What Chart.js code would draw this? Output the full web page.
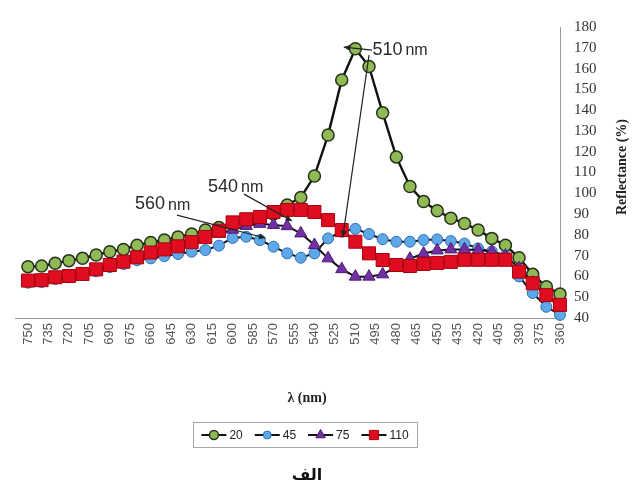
<!DOCTYPE html>
<html><head><meta charset="utf-8">
<script src="https://cdn.jsdelivr.net/npm/chart.js@4.4.1/dist/chart.umd.min.js"></script>
<style>html,body{margin:0;padding:0;background:#fff}#wrap{width:642px;height:489px;position:relative}</style>
</head><body><div id="wrap"><canvas id="c" width="642" height="489"></canvas></div>
<script>
// ---- data ----
const wavelengths = [750,740,730,720,710,700,690,680,670,660,650,640,630,620,610,600,590,580,570,560,550,540,530,520,510,500,490,480,470,460,450,440,430,420,410,400,390,380,370,360];
const xTickLabels = [750,735,720,705,690,675,660,645,630,615,600,585,570,555,540,525,510,495,480,465,450,435,420,405,390,375,360];
const yTickLabels = [40,50,60,70,80,90,100,110,120,130,140,150,160,170,180];
const seriesNames = ['20','45','75','110'];
const s20  = [64.7,65,66.3,67.6,68.7,70.3,71.9,73,75,76.3,77.5,79,80.4,82.3,83.5,85,86,87.5,90,94.4,98,108.3,128,154.5,169.5,161,138.7,117.5,103.3,96,91.6,88,85.5,82.3,78.3,75,69,61,55,51.5];
const s45  = [57,57.3,58.8,59.6,60.6,62.5,64.5,66,67.8,68.7,69.8,70.8,71.9,72.7,74.8,78.5,79.1,77.5,74.3,71.1,69,71.1,78.3,81.5,82.9,80.4,77.9,76.7,76.7,77.5,77.8,77,75.8,73.5,72,70,60,52,45.4,41.5];
const s75  = [57.5,57.8,59,60,61,62.8,64.8,66.5,68.5,70.5,72.5,74,75.5,78,80.5,82.5,84.3,85.3,84.8,84.2,80.7,75.1,68.7,63.5,59.9,59.9,61,64.5,68.5,71,72.5,73,73,72.7,72,70,64,57,50.5,45.5];
const s110 = [58,58.2,59.6,60.2,61.2,63.4,65.5,67.1,69.2,71.5,73,74.5,76.5,79,82,86,87.5,88.6,91,92,92,91,87.1,82.3,76.7,71.1,67.9,65.5,65,66,66.5,67,68,68,68,68,62.3,56.7,51,46.3];
const seriesValues = [s20, s45, s75, s110];

// ---- styles ----
const styles = [
  {bg:'#8fba56', bd:'#26321a', shape:'circle',   r:6,   bw:1.5, lw:2.4, lr:4.5},
  {bg:'#5ea8e8', bd:'#2f6fb8', shape:'circle',   r:5.5, bw:1,   lw:2,   lr:4},
  {bg:'#7330a2', bd:'#4d1a75', shape:'triangle', r:7,   bw:1,   lw:2,   lr:5.5},
  {bg:'#e00c20', bd:'#a8000f', shape:'rect',     r:9.2, bw:1,   lw:2,   lr:6.5}
];

const datasets = seriesValues.map((vals, i) => ({
  label: seriesNames[i],
  data: wavelengths.map((w, j) => ({x: w, y: vals[j]})),
  borderColor: '#111',
  borderWidth: styles[i].lw,
  pointStyle: styles[i].shape,
  pointRadius: styles[i].r,
  pointBackgroundColor: styles[i].bg,
  pointBorderColor: styles[i].bd,
  pointBorderWidth: styles[i].bw,
  tension: 0,
  clip: false,
  order: 3 - i
}));

// annotations in data space: [nm, value]
const annotations = [
  {text:'510', unit:'nm', at:[497.5,168.9], arrows:[[[497.8,168.9],[518.5,170.3]], [[500,166.5],[519.2,79]]]},
  {text:'540', unit:'nm', at:[618,103.2], arrows:[[[591.6,99.6],[556.5,86.7]]]},
  {text:'560', unit:'nm', at:[671.5,94.6], arrows:[[[640.8,89.5],[576,78.5]]]}
];

function arrow(ctx, x1, y1, x2, y2) {
  ctx.beginPath(); ctx.moveTo(x1, y1); ctx.lineTo(x2, y2); ctx.stroke();
  const a = Math.atan2(y2 - y1, x2 - x1), L = 7, W = 0.45;
  ctx.beginPath();
  ctx.moveTo(x2, y2);
  ctx.lineTo(x2 - L*Math.cos(a - W), y2 - L*Math.sin(a - W));
  ctx.lineTo(x2 - L*Math.cos(a + W), y2 - L*Math.sin(a + W));
  ctx.closePath(); ctx.fill();
}

const extras = {
  id: 'extras',
  afterDraw(chart) {
    const ctx = chart.ctx, xs = chart.scales.x, ys = chart.scales.y;
    ctx.save();
    // annotations
    ctx.strokeStyle = '#222'; ctx.fillStyle = '#222'; ctx.lineWidth = 1.2;
    annotations.forEach(a => {
      a.arrows.forEach(([p, q]) => arrow(ctx, xs.getPixelForValue(p[0]), ys.getPixelForValue(p[1]), xs.getPixelForValue(q[0]), ys.getPixelForValue(q[1])));
      const tx = xs.getPixelForValue(a.at[0]), ty = ys.getPixelForValue(a.at[1]);
      ctx.fillStyle = '#2a2a2a';
      ctx.textBaseline = 'middle'; ctx.textAlign = 'left';
      ctx.font = '18px "Liberation Sans", Arial, sans-serif';
      ctx.fillText(a.text, tx, ty);
      const w = ctx.measureText(a.text).width;
      ctx.font = '16px "Liberation Sans", Arial, sans-serif';
      ctx.fillText(a.unit, tx + w + 3, ty + 1);
      ctx.fillStyle = '#222';
    });
    // y-axis title
    ctx.save();
    ctx.translate(622, 167); ctx.rotate(-Math.PI/2);
    ctx.font = 'bold 14px "Liberation Serif", "Times New Roman", serif';
    ctx.fillStyle = '#222'; ctx.textAlign = 'center'; ctx.textBaseline = 'middle';
    ctx.fillText('Reflectance (%)', 0, 0);
    ctx.restore();
    // x-axis title
    ctx.font = 'bold 14px "Liberation Serif", "Times New Roman", serif';
    ctx.fillStyle = '#222'; ctx.textAlign = 'center'; ctx.textBaseline = 'middle';
    ctx.fillText('\u03BB (nm)', 307, 398);
    // legend
    ctx.font = '12px "Liberation Sans", Arial, sans-serif';
    const lineLen = 25, gap1 = 3, gap2 = 12;
    const widths = seriesNames.map(n => lineLen + gap1 + ctx.measureText(n).width);
    const total = widths.reduce((s, v) => s + v, 0) + gap2 * (seriesNames.length - 1);
    const cy = 435, boxL = 193, boxR = 417;
    let x = (boxL + boxR) / 2 - total / 2;
    ctx.strokeStyle = '#a8a8a8'; ctx.lineWidth = 1;
    ctx.strokeRect(boxL + 0.5, 422.5, boxR - boxL, 25);
    seriesNames.forEach((n, i) => {
      const st = styles[i];
      ctx.strokeStyle = '#111'; ctx.lineWidth = 2;
      ctx.beginPath(); ctx.moveTo(x, cy); ctx.lineTo(x + lineLen, cy); ctx.stroke();
      ctx.fillStyle = st.bg; ctx.strokeStyle = st.bd; ctx.lineWidth = st.bw;
      Chart.helpers.drawPoint(ctx, {pointStyle: st.shape, radius: st.lr, rotation: 0, borderWidth: st.bw}, x + lineLen/2, cy);
      ctx.fillStyle = '#222'; ctx.textAlign = 'left'; ctx.textBaseline = 'middle';
      ctx.fillText(n, x + lineLen + gap1, cy + 0.5);
      x += widths[i] + gap2;
    });
    // caption
    ctx.font = 'bold 16px "DejaVu Sans", sans-serif';
    ctx.fillStyle = '#111'; ctx.textAlign = 'center';
    ctx.fillText('\u0627\u0644\u0641', 307, 476);
    ctx.restore();
  }
};

new Chart(document.getElementById('c'), {
  type: 'line',
  data: {datasets},
  options: {
    responsive: false, animation: false, devicePixelRatio: 1,
    layout: {padding: {left: 15, top: 27, right: 0, bottom: 0}},
    plugins: {legend: {display: false}, tooltip: {enabled: false}},
    scales: {
      x: {
        type: 'linear', reverse: true, min: 360, max: 759.5,
        afterBuildTicks: s => { s.ticks = xTickLabels.map(v => ({value: v})); },
        afterFit: s => { s.height = 489 - 318; },
        ticks: {autoSkip: false, minRotation: 90, maxRotation: 90, padding: 5, color: '#555',
                font: {family: '"Liberation Sans", Arial, sans-serif', size: 13}, callback: v => String(v)},
        grid: {display: false, drawTicks: false},
        border: {display: true, color: '#9a9a9a', width: 1}
      },
      y: {
        position: 'right', min: 40, max: 180,
        afterBuildTicks: s => { s.ticks = yTickLabels.map(v => ({value: v})); },
        afterFit: s => { s.width = 82; },
        ticks: {autoSkip: false, padding: 14, color: '#333', font: {family: '"Liberation Serif", "Times New Roman", serif', size: 15}, callback: v => String(v)},
        grid: {display: false, drawTicks: false},
        border: {display: true, color: '#9a9a9a', width: 1}
      }
    }
  },
  plugins: [extras]
});
</script></body></html>
